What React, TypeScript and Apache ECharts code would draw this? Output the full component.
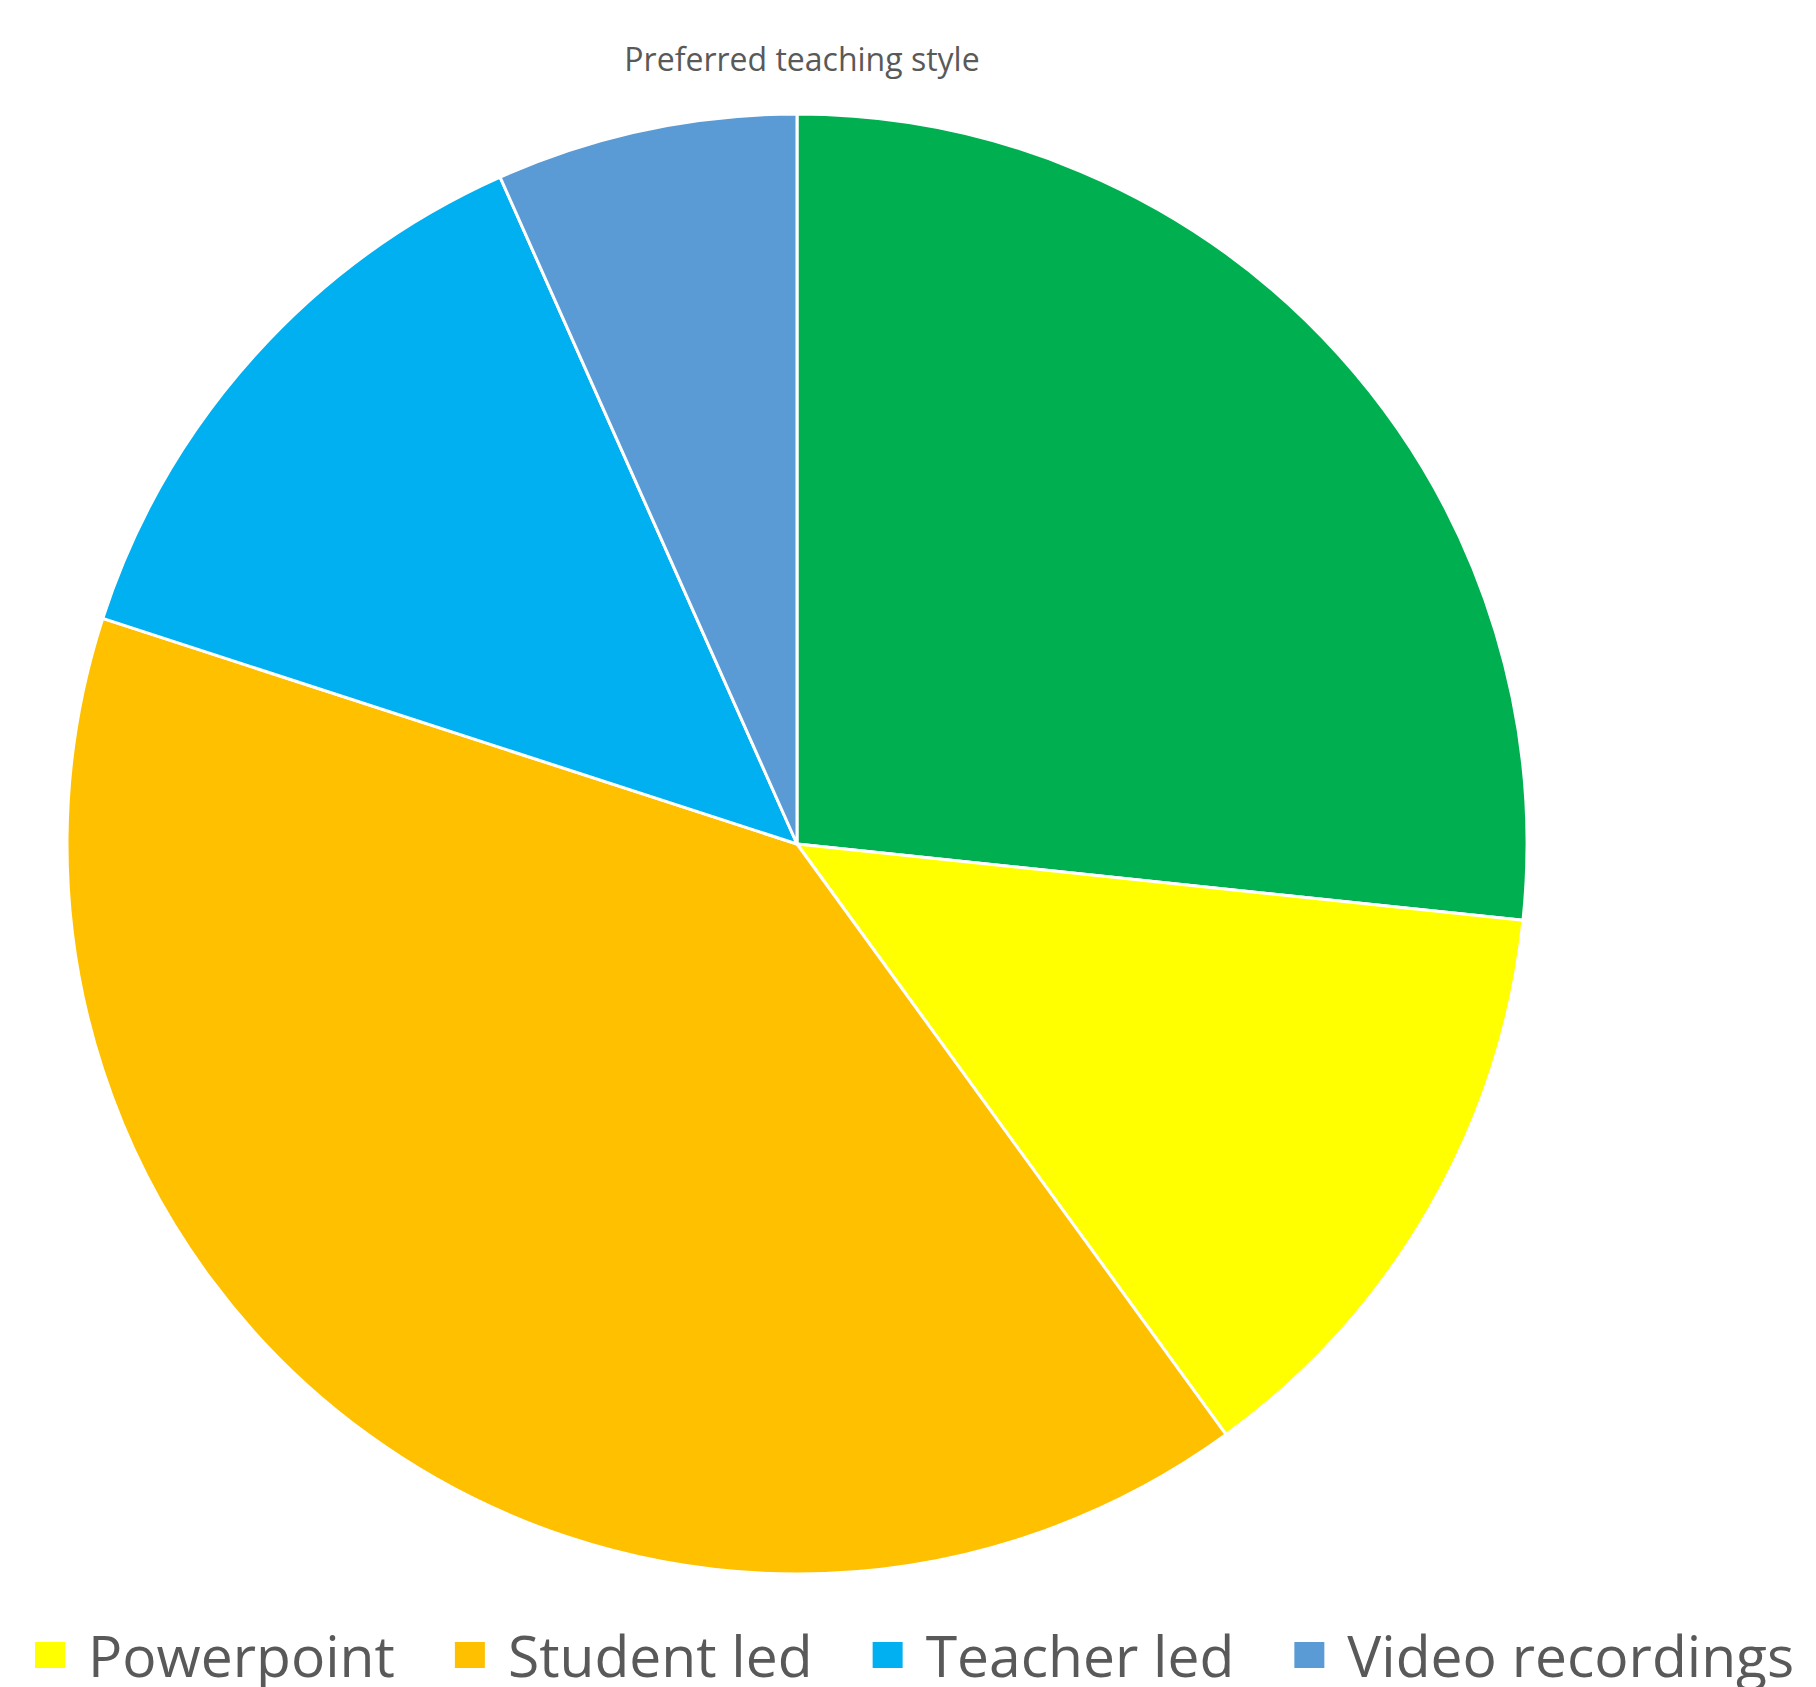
import React, { useEffect, useRef } from "react";
import * as echarts from "echarts";

const titleText = "Preferred teaching style";
const categories = ["Group work", "Powerpoint", "Student led", "Teacher led", "Video recordings"];
const values = [4, 2, 6, 2, 1];
const colors = ["#00B050", "#FFFF00", "#FFC000", "#00B0F0", "#5B9BD5"];
const legendItems = ["Powerpoint", "Student led", "Teacher led", "Video recordings"];

export default function App() {
  const ref = useRef<HTMLDivElement>(null);
  useEffect(() => {
    document.body.style.margin = "0";
    const chart = echarts.init(ref.current!, null, { renderer: "svg" });
    chart.setOption({
      animation: false,
      backgroundColor: "#ffffff",
      title: {
        text: titleText,
        left: 797,
        textAlign: "center",
        top: 37,
        textStyle: { fontFamily: "Open Sans", fontSize: 32, fontWeight: "normal", color: "#595959" },
      },
      legend: {
        data: legendItems,
        orient: "horizontal",
        left: 28,
        top: 1620,
        width: 3000,
        itemWidth: 32,
        itemHeight: 28,
        itemGap: 58,
        icon: "rect",
        textStyle: {
          fontFamily: "Open Sans",
          fontSize: 57,
          color: "#595959",
          lineHeight: 60,
          padding: [0, 0, 0, 17],
        },
      },
      series: [
        {
          type: "pie",
          center: [797, 844],
          radius: 730,
          startAngle: 90,
          clockwise: true,
          label: { show: false },
          labelLine: { show: false },
          itemStyle: { borderColor: "#ffffff", borderWidth: 3 },
          emphasis: { disabled: true },
          data: categories.map((name, i) => ({ name, value: values[i], itemStyle: { color: colors[i] } })),
        },
      ],
    });
    return () => chart.dispose();
  }, []);
  return <div ref={ref} style={{ width: 1816, height: 1687 }} />;
}
